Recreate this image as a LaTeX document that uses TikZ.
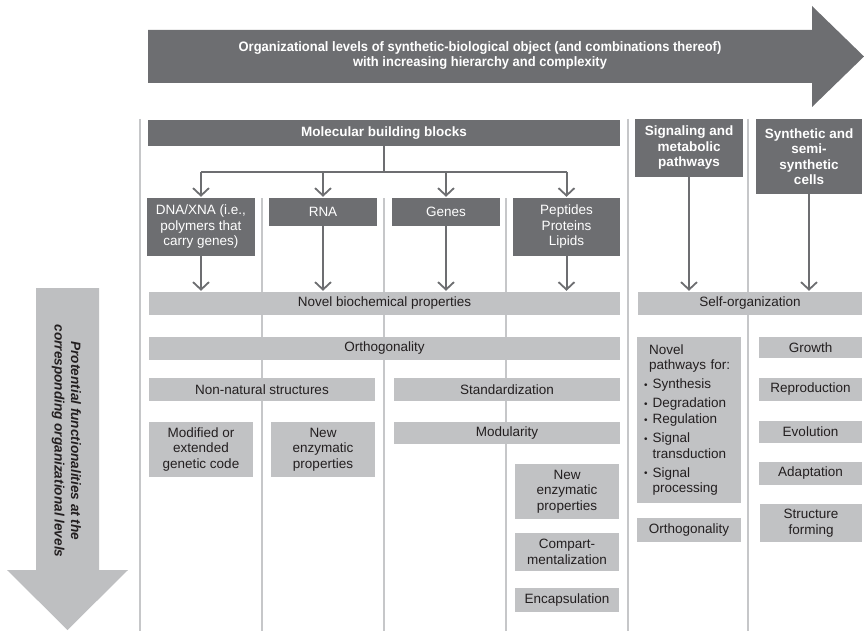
\documentclass[tikz,border=0pt]{standalone}
\usepackage{fontspec}
\setmainfont{Liberation Sans}
\usetikzlibrary{arrows.meta}
\definecolor{darkbox}{HTML}{6D6E71}
\definecolor{lightbox}{HTML}{C1C2C4}
\definecolor{sepline}{HTML}{C6C7C9}
\definecolor{arrowgray}{HTML}{BEBFC1}
\definecolor{ink}{HTML}{231F20}
\newcommand\figfont{\fontsize{13.5}{15.5}\selectfont}
\newcommand\bul{\makebox[8.5pt][l]{\fontsize{10}{10}\selectfont\raisebox{0.5pt}{•}}}
\newcommand\cont{\hspace*{8.5pt}}
\newcommand\lead{\hspace*{5pt}}
\begin{document}
\begin{tikzpicture}[x=1pt,y=-1pt,
  every node/.style={font=\figfont},
  dbox/.style={fill=darkbox, text=white, inner sep=0pt, align=center},
  hbox/.style={dbox, font=\figfont\bfseries},
  lbox/.style={fill=lightbox, text=ink, inner sep=0pt, align=center},
  sep/.style={draw=sepline, line width=2.6pt},
  conn/.style={draw=darkbox, line width=2pt},
  arr/.style={conn, -{Straight Barb[length=7.5pt,width=16pt,line width=1.8pt]}, shorten >=1pt},
]
\useasboundingbox (0,0) rectangle (864,631);

% column rules
\foreach \x/\y in {140/119,262/198,384/198,506/198,628/119,748/119}
  \draw[sep] (\x,\y) -- (\x,631);

% horizontal arrow: organizational levels
\fill[darkbox] (148,30) -- (812,30) -- (812,6) -- (864,56.5) -- (812,107) -- (812,83) -- (148,83) -- cycle;
\node[text=white, font=\fontsize{13.7}{15.2}\selectfont\bfseries] (levels) at (480,56)
  {\scalebox{0.945}[1]{\begin{tabular}{@{}c@{}}Organizational levels of synthetic-biological object (and combinations thereof)\\with increasing hierarchy and complexity\end{tabular}}};

% vertical arrow: functionalities
\fill[arrowgray] (36,288) -- (99,288) -- (99,570) -- (128,570) -- (67.5,630) -- (7,570) -- (36,570) -- cycle;
\node[rotate=-90, text=ink, font=\fontsize{13.6}{16.5}\selectfont\bfseries\itshape, align=center] (functions) at (66.5,441)
  {Protential functionalities at the\\corresponding organizational levels};

% organizational levels (dark boxes)
\node[hbox, minimum width=472pt, minimum height=26pt] (mbb) at (384,133) {Molecular building blocks};
\node[dbox, minimum width=108pt, minimum height=58pt] (dna) at (201,227) {DNA/XNA (i.e.,\\polymers that\\carry genes)};
\node[dbox, minimum width=108pt, minimum height=28pt] (rna) at (323,212) {RNA};
\node[dbox, minimum width=108pt, minimum height=28pt] (genes) at (446,212) {Genes};
\node[dbox, minimum width=107pt, minimum height=58pt] (pep) at (566.5,227) {Peptides\\Proteins\\Lipids};
\node[hbox, minimum width=108pt, minimum height=58pt] (sig) at (689,148) {Signaling and\\metabolic\\pathways};
\node[hbox, minimum width=106pt, minimum height=75pt] (cells) at (809,156.5) {Synthetic and\\semi-\\synthetic\\cells};

% functionalities (light boxes)
\node[lbox, minimum width=471pt, minimum height=23pt] (nbp) at (384.5,303.5) {Novel biochemical properties};
\node[lbox, minimum width=471pt, minimum height=23pt] (orth) at (384.5,348.5) {Orthogonality};
\node[lbox, minimum width=226pt, minimum height=23pt] (nns) at (262,389.5) {Non-natural structures};
\node[lbox, minimum width=226pt, minimum height=23pt] (std) at (507,389.5) {Standardization};
\node[lbox, minimum width=226pt, minimum height=22pt] (mod) at (507,433) {Modularity};
\node[lbox, minimum width=104pt, minimum height=55pt] (gcode) at (201,449.5) {Modified or\\extended\\genetic code};
\node[lbox, minimum width=104pt, minimum height=55pt] (enzA) at (323,449.5) {New\\enzymatic\\properties};
\node[lbox, minimum width=104pt, minimum height=55pt] (enzB) at (567,491.5) {New\\enzymatic\\properties};
\node[lbox, minimum width=104pt, minimum height=38pt] (comp) at (567,552) {Compart-\\mentalization};
\node[lbox, minimum width=104pt, minimum height=24pt] (encap) at (567,600) {Encapsulation};
\node[lbox, minimum width=224pt, minimum height=23pt] (self) at (750,303.5) {Self-organization};
\node[lbox, text width=90pt, inner xsep=7pt, minimum height=166pt, align=left] (paths) at (689,420)
  {\lead Novel\\\lead pathways for:\\[3.5pt]
   \bul Synthesis\\[3.5pt]
   \bul Degradation\\[0.5pt]
   \bul Regulation\\[3.5pt]
   \bul Signal\\
   \cont transduction\\[3.5pt]
   \bul Signal\\
   \cont processing};
\node[lbox, minimum width=104pt, minimum height=24pt] (orthB) at (689,530) {Orthogonality};
\node[lbox, minimum width=103pt, minimum height=21pt] (growth) at (810.5,347.5) {Growth};
\node[lbox, minimum width=103pt, minimum height=23pt] (repro) at (810.5,389.5) {Reproduction};
\node[lbox, minimum width=103pt, minimum height=22pt] (evol) at (810.5,432) {Evolution};
\node[lbox, minimum width=103pt, minimum height=23pt] (adapt) at (810.5,473.5) {Adaptation};
\node[lbox, minimum width=102pt, minimum height=38pt] (struct) at (811,523) {Structure\\forming};

% connectors
\coordinate (bar) at (0,172);
\draw[conn] (mbb.south) -- (mbb.south |- bar);
\draw[conn] (dna.north |- bar) -- (pep.north |- bar);
\foreach \n in {dna,rna,genes,pep}
  \draw[arr] (\n.north |- bar) -- (\n.north);
\foreach \n in {dna,rna,genes,pep}
  \draw[arr] (\n.south) -- (\n.south |- nbp.north);
\draw[arr] (sig.south) -- (sig.south |- self.north);
\draw[arr] (cells.south) -- (cells.south |- self.north);
\end{tikzpicture}
\end{document}
